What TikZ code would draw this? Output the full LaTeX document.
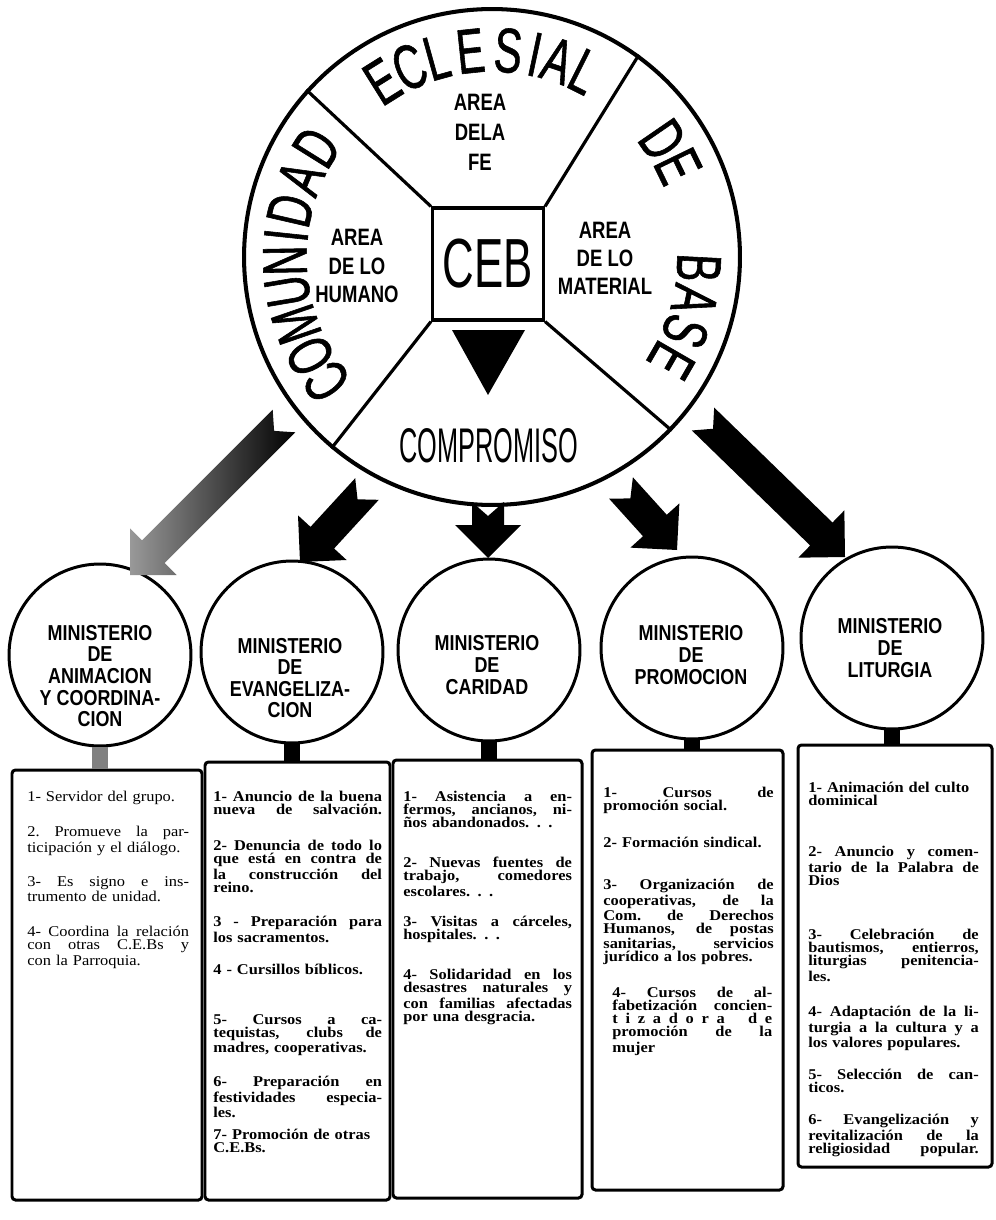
\documentclass[tikz,border=0pt]{standalone}
\usepackage{fontspec}
\setmainfont{Liberation Serif}
\newfontfamily\ringfont[FakeStretch=0.66,FakeBold=0.9]{Liberation Sans}
\newfontfamily\cebfont[FakeStretch=0.63]{Liberation Sans}
\newfontfamily\compfont[FakeStretch=0.52]{Liberation Sans}
\newfontfamily\areafont[FakeStretch=0.78]{Liberation Sans}
\newfontfamily\minfont[FakeStretch=0.83]{Liberation Sans}
\newfontfamily\boxfont[FakeStretch=1.1]{Liberation Serif}
\usetikzlibrary{calc,fit}
\newlength\tw
\newcommand\J[1]{{\spaceskip=.3333em plus 1fil\xspaceskip=.3333em plus 1fil\makebox[\tw][s]{#1}}}
\newcommand\blockarrow[2]{%
  \path[#2] ($(#1t)!0.32cm!90:(#1h)$) -- ($(#1t)!0.28cm!(#1h)$) -- ($(#1t)!0.32cm!-90:(#1h)$)
   -- ($($(#1h)!0.66cm!(#1t)$)!0.32cm!-90:(#1h)$) -- ($($(#1h)!0.66cm!(#1t)$)!0.66cm!-90:(#1h)$)
   -- (#1h) -- ($($(#1h)!0.66cm!(#1t)$)!0.66cm!90:(#1h)$) -- ($($(#1h)!0.66cm!(#1t)$)!0.32cm!90:(#1h)$) -- cycle;}
\tikzset{
  ring/.style={inner sep=0pt, font={\ringfont\fontsize{36pt}{36pt}\selectfont}},
  areatext/.style={align=center, inner sep=0pt, font={\areafont\bfseries\fontsize{13.5pt}{14pt}\selectfont}},
  mcirc/.style={draw, circle, line width=1.7pt, minimum size=3.64cm, inner sep=0pt},
  mtext/.style={align=center, inner sep=0pt, font={\minfont\bfseries\fontsize{12.3pt}{12.3pt}\selectfont}},
  boxst/.style={draw, line width=1.7pt, rounded corners=2pt, inner sep=0pt},
  stem/.style={line width=9pt},
  item/.style={anchor=north west, inner sep=0pt, align=left, font={\boxfont\bfseries\fontsize{8.5pt}{7.4pt}\selectfont}},
  lightitem/.style={item, font={\boxfont\fontsize{8.5pt}{7.4pt}\selectfont}},
  divider/.style={line width=1.8pt}
}
\begin{document}
\begin{tikzpicture}[x=0.02cm,y=-0.02cm]
\useasboundingbox (0,0) rectangle (995,1220);
% big circle
\node[draw, circle, line width=2.3pt, minimum size=9.92cm, inner sep=0pt] (bigc) at (492,257) {};
\node[draw, line width=1.8pt, minimum width=2.22cm, minimum height=2.24cm, inner sep=0pt,
      font={\cebfont\fontsize{39.6pt}{40pt}\selectfont}] (sq) at (488,264) {CEB};
\draw[divider] (sq.north west) -- (bigc.138.9);
\draw[divider] (sq.north east) -- (bigc.54.1);
\draw[divider] (sq.south west) -- (bigc.230.1);
\draw[divider] (sq.south east) -- (bigc.316.8);
% ring text
\foreach \l/\a [count=\i] in {C/217,O/208.5,M/199,U/189.5,N/181,I/174,D/167,A/157.5,D/148,
  E/122,C/113.5,L/105.5,E/96,S/85.5,I/78,A/71.5,L/63.5,D/34.5,E/26,B/-3,A/-12,S/-21,E/-30}
  {\node[ring, rotate=\a-90] (ring\i) at ($(bigc.center)+({207*cos(\a)},{-207*sin(\a)})$) {\l};}
% areas
\node[areatext] (fe) at (480,132) {AREA\\[3pt]DELA\\[3pt]FE};
\node[areatext] (humano) at (357,266) {AREA\\[2pt]DE LO\\[2pt]HUMANO};
\node[areatext] (material) at (605,258) {AREA\\[2pt]DE LO\\[2pt]MATERIAL};
\coordinate (triL) at (452,330); \coordinate (triR) at (525,330); \coordinate (triB) at (488,395);
\fill (triL) -- (triR) -- (triB) -- cycle;
\node[inner sep=0pt, font={\compfont\fontsize{27.7pt}{28pt}\selectfont}] (comp) at (489,446) {COMPROMISO};
% ministry circles
\node[mcirc] (m1) at (100,655) {};
\node[mcirc] (m2) at (292,652) {};
\node[mcirc] (m3) at (489,650) {};
\node[mcirc] (m4) at (692,648) {};
\node[mcirc] (m5) at (892,638) {};
\node[mtext] (m1t) at (100,676) {MINISTERIO\\DE\\ANIMACION\\Y COORDINA-\\CION};
\node[mtext] (m2t) at (290,678) {MINISTERIO\\DE\\EVANGELIZA-\\CION};
\node[mtext] (m3t) at (487,665) {MINISTERIO\\DE\\CARIDAD};
\node[mtext] (m4t) at (691,655) {MINISTERIO\\DE\\PROMOCION};
\node[mtext] (m5t) at (890,648) {MINISTERIO\\DE\\LITURGIA};
% arrows
\coordinate (a1t) at (284,421); \coordinate (a1h) at (130,575);
\coordinate (a2t) at (367,489); \coordinate (a2h) at (300,562);
\coordinate (a3t) at (488,502); \coordinate (a3h) at (488,558);
\coordinate (a4t) at (621,488); \coordinate (a4h) at (677,550);
\coordinate (a5t) at (703,419); \coordinate (a5h) at (845,557);
\blockarrow{a1}{left color=black!40, right color=black}
\blockarrow{a2}{fill=black}
\blockarrow{a3}{fill=black}
\blockarrow{a4}{fill=black}
\blockarrow{a5}{fill=black}
% boxes
\node[boxst, fit={(12,770) (202,1200)}] (b1) {};
\node[boxst, fit={(205,762) (390,1200)}] (b2) {};
\node[boxst, fit={(393,760) (582,1198)}] (b3) {};
\node[boxst, fit={(592,750) (783,1190)}] (b4) {};
\node[boxst, fit={(798,745) (992,1167)}] (b5) {};
% stems
\draw[stem, draw=black!50] (m1.south) -- (m1.south |- b1.north);
\draw[stem] (m2.south) -- (m2.south |- b2.north);
\draw[stem] (m3.south) -- (m3.south |- b3.north);
\draw[stem] (m4.south) -- (m4.south |- b4.north);
\draw[stem] (m5.south) -- (m5.south |- b5.north);
% box 1
\setlength\tw{92pt}
\begin{scope}[every node/.append style={lightitem, text width=92pt}]
\node (b1i1) at (27,791) {1- Servidor del grupo.};
\node (b1i2) at (27,826) {\J{2. Promueve la par-}\\ticipación y el diálogo.};
\node (b1i3) at (27,876) {\J{3- Es signo e ins-}\\trumento de unidad.};
\node (b1i4) at (27,926) {\J{4- Coordina la relación}\\\J{con otras C.E.Bs y}\\con la Parroquia.};
\end{scope}
% box 2
\setlength\tw{96pt}
\begin{scope}[every node/.append style={item, text width=96pt}]
\node (b2i1) at (213,791) {\J{1- Anuncio de la buena}\\\J{nueva de salvación.}};
\node (b2i2) at (213,840) {\J{2- Denuncia de todo lo}\\\J{que está en contra de}\\\J{la construcción del}\\reino.};
\node (b2i3) at (213,916) {\J{3 - Preparación para}\\los sacramentos.};
\node (b2i4) at (213,964) {4 - Cursillos bíblicos.};
\node (b2i5) at (213,1014) {\J{5- Cursos a ca-}\\\J{tequistas, clubs de}\\madres, cooperativas.};
\node (b2i6) at (213,1076) {\J{6- Preparación en}\\\J{festividades especia-}\\les.};
\node (b2i7) at (213,1129) {7- Promoción de otras\\C.E.Bs.};
\end{scope}
% box 3
\begin{scope}[every node/.append style={item, text width=96pt}]
\node (b3i1) at (403,791) {\J{1- Asistencia a en-}\\\J{fermos, ancianos, ni-}\\ños abandonados. . .};
\node (b3i2) at (403,857) {\J{2- Nuevas fuentes de}\\\J{trabajo, comedores}\\escolares. . .};
\node (b3i3) at (403,916) {\J{3- Visitas a cárceles,}\\hospitales. . .};
\node (b3i4) at (403,969) {\J{4- Solidaridad en los}\\\J{desastres naturales y}\\\J{con familias afectadas}\\por una desgracia.};
\end{scope}
% box 4
\setlength\tw{97pt}
\begin{scope}[every node/.append style={item, text width=97pt}]
\node (b4i1) at (603,787) {\J{1- Cursos de}\\promoción social.};
\node (b4i2) at (603,837) {2- Formación sindical.};
\node (b4i3) at (603,879) {\J{3- Organización de}\\\J{cooperativas, de la}\\\J{Com. de Derechos}\\\J{Humanos, de postas}\\\J{sanitarias, servicios}\\jurídico a los pobres.};
\end{scope}
\setlength\tw{91pt}
\node[item, text width=91pt] (b4i4) at (612,987) {\J{4- Cursos de al-}\\\J{fabetización concien-}\\\J{t i z a d o r a \ \ d e}\\\J{promoción de la}\\mujer};
% box 5
\setlength\tw{97pt}
\begin{scope}[every node/.append style={item, text width=97pt}]
\node (b5i1) at (808,782) {1- Animación del culto\\dominical};
\node (b5i2) at (808,846) {\J{2- Anuncio y comen-}\\\J{tario de la Palabra de}\\Dios};
\node (b5i3) at (808,929) {\J{3- Celebración de}\\\J{bautismos, entierros,}\\\J{liturgias penitencia-}\\les.};
\node (b5i4) at (808,1006) {\J{4- Adaptación de la li-}\\\J{turgia a la cultura y a}\\los valores populares.};
\node (b5i5) at (808,1069) {\J{5- Selección de can-}\\ticos.};
\node (b5i6) at (808,1114) {\J{6- Evangelización y}\\\J{revitalización de la}\\\J{religiosidad popular.}};
\end{scope}
\end{tikzpicture}
\end{document}
